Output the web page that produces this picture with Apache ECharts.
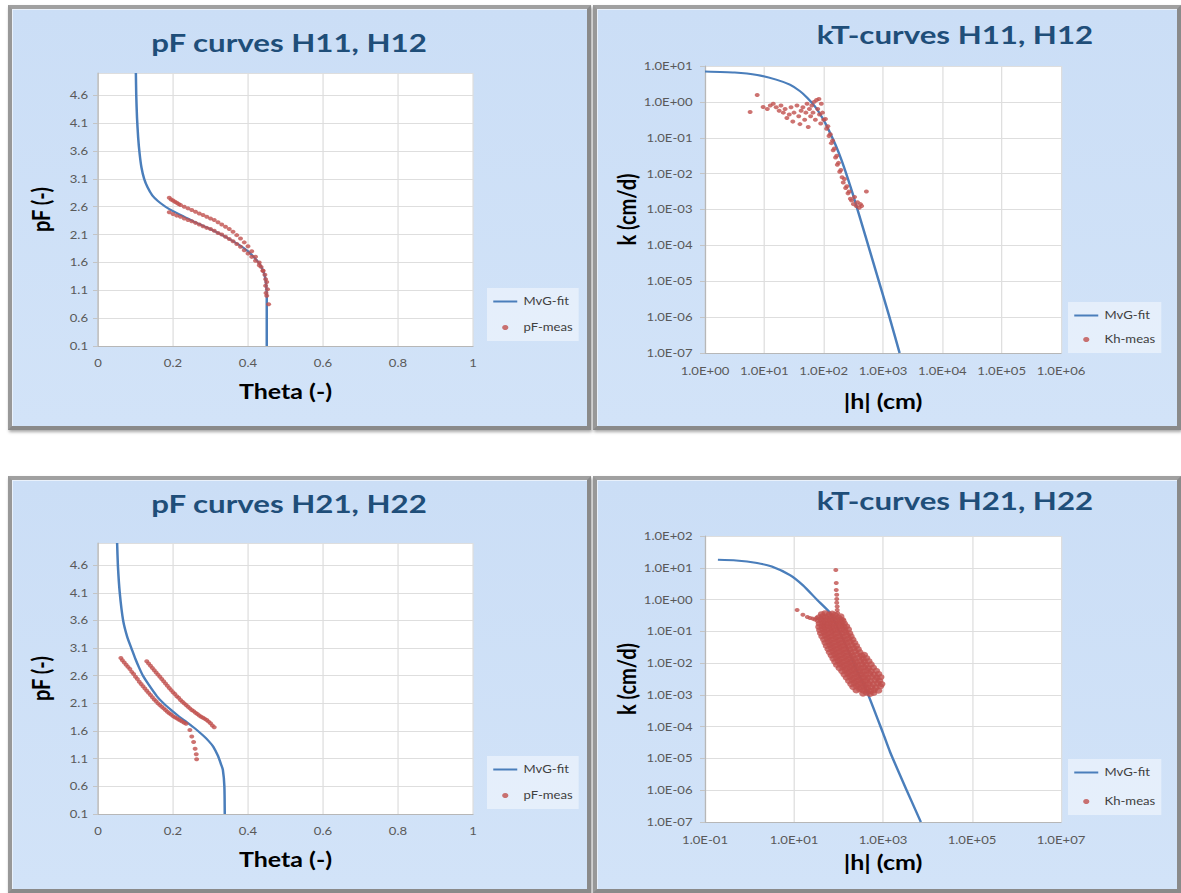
<!DOCTYPE html>
<html>
<head>
<meta charset="utf-8">
<script src="https://cdn.jsdelivr.net/npm/echarts@6/dist/echarts.min.js"></script>
<style>
  html, body { margin: 0; padding: 0; background: #ffffff; }
  body { width: 1181px; height: 893px; position: relative; overflow: hidden; }
  .panel {
    position: absolute; box-sizing: border-box;
    background: linear-gradient(180deg, #cbdef6 0%, #d2e3f8 100%);
    border: 4px solid #8a8a8a;
    border-top-color: #a0a0a0; border-left-color: #989898;
    box-shadow: inset 1px 1px 0 #e9f1fb, 1px 2px 3px rgba(0,0,0,0.35);
  }
  #chart { position: absolute; left: 0; top: 0; width: 945px; height: 893px;
           transform: scaleX(1.24974); transform-origin: 0 0; }
</style>
</head>
<body>
<div class="panel" style="left:8px;top:5px;width:583px;height:425px"></div>
<div class="panel" style="left:593px;top:5px;width:588px;height:425px"></div>
<div class="panel" style="left:8px;top:476px;width:583px;height:417px"></div>
<div class="panel" style="left:593px;top:476px;width:588px;height:417px"></div>
<div id="chart"></div>
<script>
// ---- data -------------------------------------------------------------
// pF curves H11, H12 : [theta (-), pF (-)]
const pfFitH1 = [
  [0.101,5.0],[0.102,4.6],[0.104,4.2],[0.107,3.85],[0.111,3.55],[0.116,3.3],
  [0.123,3.1],[0.132,2.95],[0.145,2.8],[0.16,2.7],[0.18,2.6],[0.2,2.52],
  [0.23,2.42],[0.26,2.32],[0.29,2.23],[0.32,2.13],[0.35,2.02],[0.38,1.9],
  [0.4,1.8],[0.415,1.7],[0.428,1.6],[0.437,1.5],[0.443,1.4],[0.447,1.28],
  [0.449,1.15],[0.45,1.0],[0.45,0.1]
];
const pfMeasH1 = [
  [0.19,2.76],[0.195,2.73],[0.2,2.71],[0.205,2.69],[0.21,2.67],[0.215,2.65],
  [0.22,2.63],[0.23,2.6],[0.24,2.57],[0.25,2.54],[0.26,2.51],[0.27,2.48],
  [0.28,2.45],[0.29,2.42],[0.3,2.39],[0.31,2.36],[0.32,2.32],[0.33,2.28],
  [0.34,2.24],[0.35,2.2],[0.36,2.15],[0.37,2.09],[0.38,2.03],[0.39,1.96],
  [0.4,1.89],[0.41,1.8],[0.42,1.7],[0.43,1.6],[0.435,1.52],[0.44,1.45],
  [0.19,2.5],[0.2,2.47],[0.21,2.44],[0.22,2.42],[0.23,2.39],[0.24,2.36],
  [0.25,2.34],[0.26,2.31],[0.27,2.28],[0.28,2.25],[0.29,2.22],[0.3,2.2],
  [0.31,2.17],[0.32,2.13],[0.33,2.1],[0.34,2.06],[0.35,2.02],[0.36,1.98],
  [0.37,1.93],[0.38,1.88],[0.39,1.82],[0.4,1.76],[0.41,1.7],[0.42,1.63],
  [0.43,1.55],[0.44,1.45],[0.445,1.38],
  [0.447,1.3],[0.45,1.25],[0.447,1.18],[0.452,1.12],[0.448,1.05],[0.45,1.0],[0.455,0.85]
];

// kT curves H11, H12 : [log10 |h| (cm), log10 k (cm/d)]
const ktFitH1 = [
  [0,0.85],[0.5,0.82],[0.88,0.75],[1.2,0.62],[1.43,0.48],[1.6,0.3],[1.72,0.12],
  [1.85,-0.12],[1.94,-0.34],[2.03,-0.6],[2.11,-0.87],[2.2,-1.2],[2.3,-1.62],
  [2.4,-2.1],[2.5,-2.62],[2.7,-3.72],[2.9,-4.83],[3.1,-5.95],[3.28,-7.0]
];
const ktMeasH1 = [
  [0.76,-0.28],[0.88,0.19],[0.98,-0.14],[1.05,-0.2],[1.1,-0.1],[1.15,-0.05],
  [1.2,-0.15],[1.25,-0.25],[1.28,-0.1],[1.32,-0.3],[1.35,-0.2],[1.38,-0.45],
  [1.42,-0.35],[1.45,-0.15],[1.48,-0.55],[1.5,-0.3],[1.55,-0.1],[1.58,-0.4],
  [1.6,-0.62],[1.62,-0.25],[1.65,-0.15],[1.68,-0.5],[1.7,-0.3],[1.72,-0.05],
  [1.74,-0.7],[1.76,-0.2],[1.78,-0.4],[1.8,-0.1],[1.82,-0.3],[1.84,0.0],
  [1.86,-0.5],[1.88,0.05],[1.9,-0.2],[1.92,0.08],[1.93,-0.35],[1.95,-0.6],
  [1.96,-0.05],[1.98,-0.3],[2.0,-0.5],[2.03,-0.48],[2.05,-0.75],[2.07,-0.68],
  [2.09,-0.95],[2.11,-0.9],[2.13,-1.15],[2.15,-1.08],[2.16,-1.35],[2.18,-1.3],
  [2.2,-1.55],[2.22,-1.5],[2.23,-1.75],[2.25,-1.7],[2.27,-1.95],[2.29,-1.9],
  [2.31,-2.1],[2.33,-2.25],[2.35,-2.15],[2.37,-2.4],[2.39,-2.35],[2.41,-2.55],
  [2.43,-2.5],[2.45,-2.7],[2.47,-2.75],[2.5,-2.85],[2.52,-2.65],[2.55,-2.9],
  [2.57,-2.8],[2.6,-2.95],[2.62,-2.85],[2.64,-2.9],[2.72,-2.5]
];

// pF curves H21, H22 : [theta (-), pF (-)]
const pfFitH2 = [
  [0.051,5.0],[0.053,4.6],[0.058,4.1],[0.067,3.6],[0.078,3.3],[0.09,3.08],
  [0.1,2.9],[0.11,2.74],[0.12,2.6],[0.135,2.44],[0.157,2.23],[0.175,2.1],
  [0.195,1.98],[0.215,1.87],[0.237,1.76],[0.26,1.64],[0.28,1.52],[0.295,1.42],
  [0.307,1.32],[0.32,1.15],[0.328,1.0],[0.333,0.9],[0.337,0.6],[0.338,0.1]
];
const pfMeasH2 = [
  [0.061,2.92],[0.065,2.88],[0.07,2.84],[0.075,2.8],[0.08,2.76],[0.085,2.72],
  [0.09,2.67],[0.095,2.63],[0.1,2.58],[0.105,2.54],[0.11,2.49],[0.115,2.45],
  [0.12,2.41],[0.125,2.37],[0.13,2.33],[0.135,2.29],[0.14,2.25],[0.145,2.21],
  [0.15,2.17],[0.155,2.14],[0.16,2.1],[0.165,2.07],[0.17,2.04],[0.175,2.01],
  [0.18,1.98],[0.185,1.95],[0.19,1.92],[0.195,1.9],[0.2,1.87],[0.205,1.85],
  [0.21,1.83],[0.215,1.81],[0.22,1.79],[0.225,1.77],[0.23,1.75],[0.235,1.73],
  [0.245,1.62],[0.25,1.5],[0.255,1.4],[0.259,1.28],[0.262,1.18],[0.263,1.09],
  [0.13,2.86],[0.135,2.82],[0.14,2.78],[0.145,2.74],[0.15,2.7],[0.155,2.66],
  [0.16,2.62],[0.165,2.58],[0.17,2.54],[0.175,2.5],[0.18,2.46],[0.185,2.42],
  [0.19,2.38],[0.195,2.34],[0.2,2.3],[0.205,2.27],[0.21,2.23],[0.215,2.2],
  [0.22,2.16],[0.225,2.13],[0.23,2.1],[0.235,2.07],[0.24,2.04],[0.245,2.01],
  [0.25,1.98],[0.255,1.96],[0.26,1.93],[0.265,1.91],[0.27,1.88],[0.275,1.86],
  [0.28,1.84],[0.285,1.82],[0.29,1.8],[0.295,1.77],[0.3,1.74],[0.305,1.7],[0.31,1.67]
];

// kT curves H21, H22 : [log10 |h| (cm), log10 k (cm/d)]
const ktFitH2 = [
  [-0.71,1.25],[-0.3,1.23],[0.17,1.15],[0.5,1.04],[0.91,0.77],[1.2,0.45],
  [1.52,-0.01],[1.81,-0.42],[2.0,-0.95],[2.2,-1.55],[2.4,-2.2],[2.64,-2.9],
  [3.0,-4.2],[3.16,-4.8],[3.5,-5.9],[3.85,-7.0]
];
// scattered low-suction points and the near-saturated column around 90 cm
const ktMeasH2Sparse = [
  [1.07,-0.33],[1.2,-0.48],[1.3,-0.55],[1.36,-0.58],[1.42,-0.6],[1.47,-0.63],[1.51,-0.57],
  [1.94,0.93],[1.95,0.52],[1.95,0.3],[1.96,0.15],[1.96,0.02],[1.96,-0.1],
  [1.97,-0.22],[1.97,-0.33],[1.98,-0.42],[2.11,-0.62]
];
// main measurement cloud
const ktMeasH2Cloud = [
  [1.62,-0.46],[1.7,-0.43],[1.79,-0.47],[1.86,-0.44],[1.92,-0.48],
  [1.56,-0.56],[1.64,-0.53],[1.71,-0.57],[1.77,-0.54],[1.85,-0.58],[1.9,-0.55],[2.0,-0.57],[2.05,-0.53],
  [1.55,-0.66],[1.61,-0.63],[1.69,-0.67],[1.76,-0.64],[1.83,-0.68],[1.9,-0.65],[1.97,-0.67],[2.04,-0.63],[2.1,-0.68],
  [1.57,-0.76],[1.65,-0.73],[1.71,-0.77],[1.79,-0.74],[1.85,-0.78],[1.92,-0.75],[1.99,-0.77],[2.06,-0.73],[2.13,-0.76],
  [1.56,-0.86],[1.64,-0.83],[1.7,-0.87],[1.77,-0.84],[1.84,-0.88],[1.91,-0.85],[1.98,-0.87],[2.05,-0.83],[2.12,-0.86],[2.18,-0.84],
  [1.58,-0.96],[1.65,-0.93],[1.72,-0.97],[1.79,-0.94],[1.86,-0.98],[1.93,-0.95],[2.0,-0.97],[2.07,-0.93],[2.14,-0.96],[2.22,-0.94],
  [1.6,-1.06],[1.68,-1.03],[1.76,-1.07],[1.84,-1.04],[1.92,-1.08],[2.0,-1.05],[2.08,-1.07],[2.16,-1.03],[2.25,-1.06],
  [1.63,-1.16],[1.71,-1.13],[1.79,-1.17],[1.87,-1.14],[1.95,-1.18],[2.03,-1.15],[2.11,-1.17],[2.19,-1.13],[2.28,-1.16],
  [1.67,-1.26],[1.75,-1.23],[1.83,-1.27],[1.91,-1.24],[1.99,-1.28],[2.07,-1.25],[2.15,-1.27],[2.23,-1.23],[2.32,-1.26],
  [1.7,-1.36],[1.78,-1.33],[1.86,-1.37],[1.94,-1.34],[2.02,-1.38],[2.1,-1.35],[2.18,-1.37],[2.26,-1.33],[2.36,-1.36],
  [1.73,-1.46],[1.81,-1.43],[1.89,-1.47],[1.97,-1.44],[2.05,-1.48],[2.13,-1.45],[2.21,-1.47],[2.3,-1.43],[2.4,-1.46],
  [1.77,-1.56],[1.85,-1.53],[1.93,-1.57],[2.01,-1.54],[2.09,-1.58],[2.17,-1.55],[2.25,-1.57],[2.34,-1.53],[2.44,-1.56],
  [1.8,-1.66],[1.88,-1.63],[1.96,-1.67],[2.04,-1.64],[2.12,-1.68],[2.2,-1.65],[2.28,-1.67],[2.37,-1.63],[2.48,-1.66],
  [1.84,-1.76],[1.92,-1.73],[2.0,-1.77],[2.08,-1.74],[2.16,-1.78],[2.24,-1.75],[2.32,-1.77],[2.41,-1.73],[2.52,-1.76],[2.58,-1.74],
  [1.88,-1.86],[1.96,-1.83],[2.04,-1.87],[2.12,-1.84],[2.2,-1.88],[2.28,-1.85],[2.36,-1.87],[2.45,-1.83],[2.55,-1.86],[2.63,-1.84],
  [1.92,-1.96],[2.0,-1.93],[2.08,-1.97],[2.16,-1.94],[2.24,-1.98],[2.32,-1.95],[2.4,-1.97],[2.49,-1.93],[2.58,-1.96],[2.68,-1.94],
  [1.96,-2.06],[2.04,-2.03],[2.12,-2.07],[2.2,-2.04],[2.28,-2.08],[2.36,-2.05],[2.44,-2.07],[2.53,-2.03],[2.62,-2.06],[2.73,-2.04],
  [2.02,-2.16],[2.1,-2.13],[2.18,-2.17],[2.26,-2.14],[2.34,-2.18],[2.42,-2.15],[2.5,-2.17],[2.58,-2.13],[2.67,-2.16],[2.78,-2.14],
  [2.08,-2.26],[2.16,-2.23],[2.24,-2.27],[2.32,-2.24],[2.4,-2.28],[2.48,-2.25],[2.56,-2.27],[2.64,-2.23],[2.73,-2.26],[2.85,-2.24],
  [2.13,-2.36],[2.21,-2.33],[2.29,-2.37],[2.37,-2.34],[2.45,-2.38],[2.53,-2.35],[2.61,-2.37],[2.7,-2.33],[2.8,-2.36],[2.9,-2.34],
  [2.18,-2.46],[2.26,-2.43],[2.34,-2.47],[2.42,-2.44],[2.5,-2.48],[2.58,-2.45],[2.66,-2.47],[2.75,-2.43],[2.86,-2.46],[2.95,-2.44],
  [2.23,-2.56],[2.31,-2.53],[2.39,-2.57],[2.47,-2.54],[2.55,-2.58],[2.63,-2.55],[2.72,-2.57],[2.82,-2.53],[2.92,-2.56],
  [2.28,-2.66],[2.36,-2.63],[2.44,-2.67],[2.52,-2.64],[2.6,-2.68],[2.68,-2.65],[2.78,-2.67],[2.88,-2.63],[2.97,-2.66],
  [2.33,-2.76],[2.41,-2.73],[2.49,-2.77],[2.57,-2.74],[2.65,-2.78],[2.74,-2.75],[2.84,-2.77],[2.94,-2.73],
  [2.4,-2.86],[2.48,-2.83],[2.56,-2.87],[2.64,-2.84],[2.72,-2.88],[2.8,-2.85],[2.9,-2.87],
  [2.55,-2.96],[2.63,-2.93],[2.71,-2.97],[2.79,-2.94]
];

// axis ranges (log ranges in raw units, log steps in decades)
const thetaAxis = { min: 0, max: 1, step: 0.2 };
const pfAxis    = { min: 0.1, max: 5.0, step: 0.5 };
const hAxisH1   = { min: 1, max: 1e6, step: 1 };
const kAxisH1   = { min: 1e-7, max: 1e1, step: 1 };
const hAxisH2   = { min: 0.1, max: 1e7, step: 2 };
const kAxisH2   = { min: 1e-7, max: 1e2, step: 1 };

const titles = ['pF curves H11, H12', 'kT-curves H11, H12', 'pF curves H21, H22', 'kT-curves H21, H22'];
const pfLegend = ['MvG-fit', 'pF-meas'];
const ktLegend = ['MvG-fit', 'Kh-meas'];

// ---- layout ---------------------------------------------------------------
const S = 1181 / 945;          // the drawing is widened by this factor
const px = v => v / S;         // page x -> drawing x
const BLUE = '#4a7ebb', RED = '#c0504d';
const FONT = 'Lato';

const fromLog = pts => pts.map(([a, b]) => [Math.pow(10, a), Math.pow(10, b)]);
const sci = v => {
  const e = Math.round(Math.log10(v));
  return '1.0E' + (e < 0 ? '-' : '+') + String(Math.abs(e)).padStart(2, '0');
};

const tickLabel = { fontFamily: FONT, fontSize: 10.5, color: '#595959' };
const nameText = { fontFamily: FONT, fontSize: 20, fontWeight: 'bold', color: '#000000' };
const axisLine = { show: true, lineStyle: { color: '#b7b7b7', width: 1 } };
const axisTick = { show: true, length: 4, lineStyle: { color: '#c4c4c4' } };
const splitLine = { show: true, lineStyle: { color: '#dedede', width: 1 } };

const grids = [
  { left: px(98),  top: 73,  width: px(375), height: 273 },
  { left: px(705), top: 66,  width: px(356), height: 287 },
  { left: px(98),  top: 543, width: px(375), height: 271 },
  { left: px(705), top: 536, width: px(356), height: 286 }
].map(g => Object.assign({ show: true, backgroundColor: '#ffffff', borderWidth: 0 }, g));

function thetaX(i, gap) {
  return { type: 'value', gridIndex: i, min: thetaAxis.min, max: thetaAxis.max, interval: thetaAxis.step,
    name: 'Theta (-)', nameLocation: 'middle', nameGap: gap, nameTextStyle: nameText,
    axisLine, axisTick: { show: false }, splitLine,
    axisLabel: Object.assign({ margin: 12 }, tickLabel) };
}
function pfY(i) {
  return { type: 'value', gridIndex: i, min: pfAxis.min, max: pfAxis.max, interval: pfAxis.step,
    name: 'pF (-)', nameLocation: 'middle', nameRotate: 90, nameGap: 36, nameTextStyle: nameText,
    axisLine, axisTick, splitLine,
    axisLabel: Object.assign({ margin: 8, showMaxLabel: false, formatter: v => v.toFixed(1) }, tickLabel) };
}
function logX(i, ax, gap) {
  return { type: 'log', logBase: 10, gridIndex: i, min: ax.min, max: ax.max, interval: ax.step,
    name: '|h| (cm)', nameLocation: 'middle', nameGap: gap, nameTextStyle: nameText,
    axisLine, axisTick: { show: false }, splitLine, minorTick: { show: false },
    axisLabel: Object.assign({ margin: 13, formatter: sci }, tickLabel) };
}
function logY(i, ax) {
  return { type: 'log', logBase: 10, gridIndex: i, min: ax.min, max: ax.max, interval: ax.step,
    name: 'k (cm/d)', nameLocation: 'middle', nameRotate: 90, nameGap: 53, nameTextStyle: nameText,
    axisLine, axisTick, splitLine,
    axisLabel: Object.assign({ margin: 10, formatter: sci }, tickLabel) };
}

function fitSeries(i, data) {
  return { type: 'line', name: 'MvG-fit', xAxisIndex: i, yAxisIndex: i, data,
    symbol: 'none', smooth: 0.2, clip: true, z: 2,
    lineStyle: { color: BLUE, width: 2 }, itemStyle: { color: BLUE } };
}
function measSeries(i, name, data, size) {
  return { type: 'scatter', name, xAxisIndex: i, yAxisIndex: i, data,
    symbol: 'circle', symbolSize: size || 4, z: 3, itemStyle: { color: RED } };
}

const titleStyle = { fontFamily: FONT, fontSize: 25, fontWeight: 'bold', color: '#1f4e79' };
const titleAt = (text, cx, top) => ({ text, left: px(cx), top, textAlign: 'center', padding: 0, textStyle: titleStyle });

const legendAt = (names, left, top, gap) => ({
  data: [{ name: names[0], itemStyle: { opacity: 0 } }, { name: names[1] }],
  orient: 'vertical', left: px(left), top, itemGap: gap,
  itemWidth: px(24), itemHeight: 5, padding: [8, px(6), 8, px(5)],
  backgroundColor: 'rgba(255,255,255,0.45)',
  textStyle: { fontFamily: FONT, fontSize: 10.5, color: '#404040' }
});

const option = {
  animation: false,
  title: [
    titleAt(titles[0], 289, 30),
    titleAt(titles[1], 955, 22),
    titleAt(titles[2], 289, 491),
    titleAt(titles[3], 955, 488)
  ],
  legend: [
    legendAt(pfLegend, 487, 288, 15),
    legendAt(ktLegend, 1068, 302, 13),
    legendAt(pfLegend, 487, 756, 15),
    legendAt(ktLegend, 1068, 759, 18)
  ],
  grid: grids,
  xAxis: [thetaX(0, 35), logX(1, hAxisH1, 38), thetaX(2, 35), logX(3, hAxisH2, 30)],
  yAxis: [pfY(0), logY(1, kAxisH1), pfY(2), logY(3, kAxisH2)],
  series: [
    fitSeries(0, pfFitH1), measSeries(0, 'pF-meas', pfMeasH1),
    fitSeries(1, fromLog(ktFitH1)), measSeries(1, 'Kh-meas', fromLog(ktMeasH1)),
    fitSeries(2, pfFitH2), measSeries(2, 'pF-meas', pfMeasH2),
    fitSeries(3, fromLog(ktFitH2)),
    measSeries(3, 'Kh-meas', fromLog(ktMeasH2Sparse)),
    measSeries(3, 'Kh-meas', fromLog(ktMeasH2Cloud), 6)
  ]
};

const chart = echarts.init(document.getElementById('chart'), null, { renderer: 'svg', width: 945, height: 893 });
chart.setOption(option);
</script>
</body>
</html>
